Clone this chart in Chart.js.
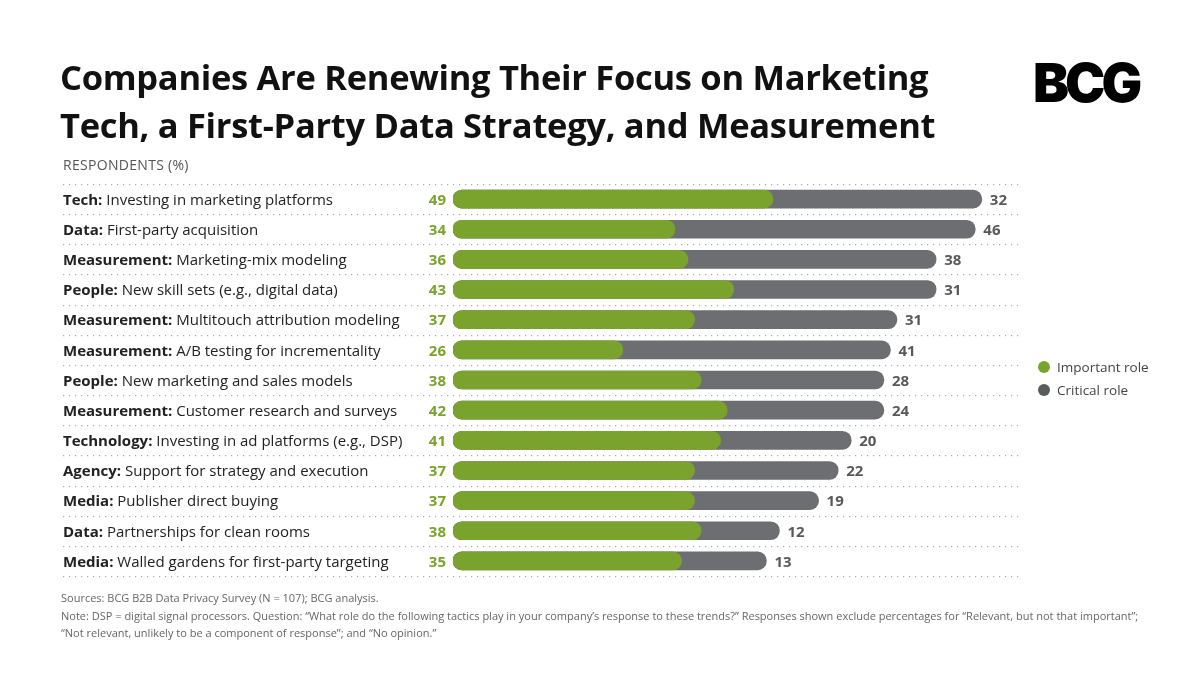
<!DOCTYPE html>
<html>
<head>
<meta charset="utf-8">
<script src="https://cdn.jsdelivr.net/npm/chart.js@4.4.1/dist/chart.umd.min.js"></script>
<style>
  html, body { margin: 0; padding: 0; background: #fff; }
  body { width: 1200px; height: 676px; position: relative; overflow: hidden; font-family: "Open Sans", sans-serif; }
  #title { position: absolute; left: 60px; top: 53px; margin: 0; font-size: 34.5px; line-height: 48px; font-weight: 700; color: #111; letter-spacing: -0.3px; }
  #logo { position: absolute; left: 1033px; top: 50px; font-family: Inter, "DejaVu Sans", sans-serif; font-size: 54px; font-weight: 900; letter-spacing: -4px; color: #000; }
  #sub { position: absolute; left: 63px; top: 155px; font-size: 14px; color: #555; letter-spacing: 0.3px; }
  #legend { position: absolute; left: 1038px; top: 357px; font-size: 13.5px; color: #444; }
  #legend div { height: 23px; line-height: 20px; }
  #legend span { display: inline-block; width: 12px; height: 12px; border-radius: 6px; margin-right: 7px; vertical-align: -1px; }
  #notes { position: absolute; left: 61px; top: 589px; font-size: 11px; line-height: 17.5px; color: #666; }
  #wrap { position: absolute; left: 0; top: 0; width: 1200px; height: 676px; }
</style>
</head>
<body>
<div id="wrap"><canvas id="chart" width="1200" height="676"></canvas></div>
<h1 id="title">Companies Are Renewing Their Focus on Marketing<br>Tech, a First-Party Data Strategy, and Measurement</h1>
<div id="logo">BCG</div>
<div id="sub">RESPONDENTS (%)</div>
<div id="legend">
  <div><span style="background:#7aa32e"></span>Important role</div>
  <div><span style="background:#5b5c5e"></span>Critical role</div>
</div>
<div id="notes">
  Sources: BCG B2B Data Privacy Survey (N = 107); BCG analysis.<br>
  Note: DSP = digital signal processors. Question: “What role do the following tactics play in your company’s response to these trends?” Responses shown exclude percentages for “Relevant, but not that important”;<br>
  “Not relevant, unlikely to be a component of response”; and “No opinion.”
</div>
<script>
// categories (bold prefix before the colon)
const categories = [
    'Tech: Investing in marketing platforms',
    'Data: First-party acquisition',
    'Measurement: Marketing-mix modeling',
    'People: New skill sets (e.g., digital data)',
    'Measurement: Multitouch attribution modeling',
    'Measurement: A/B testing for incrementality',
    'People: New marketing and sales models',
    'Measurement: Customer research and surveys',
    'Technology: Investing in ad platforms (e.g., DSP)',
    'Agency: Support for strategy and execution',
    'Media: Publisher direct buying',
    'Data: Partnerships for clean rooms',
    'Media: Walled gardens for first-party targeting'
];
const important = [49, 34, 36, 43, 37, 26, 38, 42, 41, 37, 37, 38, 35];
const critical = [32, 46, 38, 31, 31, 41, 28, 24, 20, 22, 19, 12, 13];

const green = '#7aa32e';
const gray = '#6d6e71';

// total length of each row, gray bar sits behind the green one
const totals = important.map((v, i) => v + critical[i]);

// labels, values and the dotted row separators
const decorations = {
    id: 'decorations',
    afterDatasetsDraw(chart) {
        const ctx = chart.ctx;
        const area = chart.chartArea;
        const x = chart.scales.x;
        const y = chart.scales.y;
        const step = (area.bottom - area.top) / categories.length;

        ctx.save();
        // dotted lines
        ctx.fillStyle = '#aaaaaa';
        for (let r = 0; r <= categories.length; r++) {
            const ly = Math.round(area.top + r * step);
            for (let dx = 63; dx <= 1018; dx += 6) {
                ctx.fillRect(dx, ly, 1.2, 1.2);
            }
        }

        ctx.textBaseline = 'middle';
        categories.forEach((label, i) => {
            const cy = y.getPixelForValue(i) + 1.5;
            const cut = label.indexOf(':') + 1;
            const head = label.slice(0, cut);
            const rest = label.slice(cut);
            ctx.textAlign = 'left';
            ctx.fillStyle = '#222';
            ctx.font = 'bold 15px "Open Sans"';
            ctx.fillText(head, 63, cy);
            const w = ctx.measureText(head).width;
            ctx.font = '15px "Open Sans"';
            ctx.fillText(rest, 63 + w, cy);

            ctx.font = 'bold 15px "Open Sans"';
            ctx.textAlign = 'right';
            ctx.fillStyle = green;
            ctx.fillText(important[i], x.getPixelForValue(0) - 7, cy);
            ctx.textAlign = 'left';
            ctx.fillStyle = '#58595b';
            ctx.fillText(critical[i], x.getPixelForValue(totals[i]) + 8, cy);
        });
        ctx.restore();
    }
};

const config = {
    type: 'bar',
    data: {
        labels: categories,
        datasets: [{
            label: 'Important role',
            data: important,
            backgroundColor: green,
            order: 1
        }, {
            label: 'Critical role',
            data: totals,
            backgroundColor: gray,
            order: 2
        }]
    },
    plugins: [decorations],
    options: {
        indexAxis: 'y',
        responsive: false,
        animation: false,
        grouped: false,
        barThickness: 18,
        borderRadius: 9,
        borderSkipped: false,
        layout: {
            padding: { left: 453, right: 179, top: 184, bottom: 100 }
        },
        scales: {
            x: { display: false, min: 0, max: 87 },
            y: { display: false }
        },
        plugins: {
            legend: { display: false },
            tooltip: { enabled: false }
        }
    }
};

new Chart(document.getElementById('chart').getContext('2d'), config);
</script>
</body>
</html>
